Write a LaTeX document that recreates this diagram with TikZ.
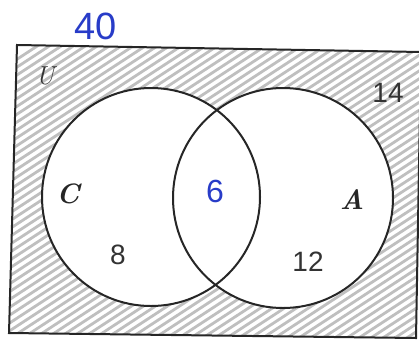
\documentclass[tikz,border=0pt]{standalone}
\usepackage{fontspec}
\setsansfont{Liberation Sans}
\definecolor{pen}{RGB}{40,60,200}
\begin{document}
\begin{tikzpicture}[x=1pt,y=-1pt,
  frame/.style={line width=2pt,black!85},
  setc/.style={circle,draw=black!85,line width=2pt,inner sep=0pt},
  hatch/.style={line width=2.8pt,gray!50,line cap=round},
  num/.style={font=\sffamily\fontsize{28}{28}\selectfont,text=black!80},
  setlbl/.style={font=\bfseries\itshape\fontsize{28}{28}\selectfont,text=black!85},
  hand/.style={font=\sffamily\fontsize{38}{38}\selectfont,text=pen}]
\useasboundingbox (0,0) rectangle (419,343);
\coordinate (p1) at (17,45);
\coordinate (p2) at (421,52);
\coordinate (p3) at (416,338);
\coordinate (p4) at (9,333);
\begin{scope}
  \clip (p1) -- (p2) -- (p3) -- (p4) -- cycle;
  \foreach \i in {-420,-408,...,440}
    \draw[hatch] (\i,345) -- ++(520,-340);
\end{scope}
\fill[white] (151,197) circle (109);
\fill[white] (283,198) circle (110);
\node[setc,minimum size=218pt] (cc) at (151,197) {};
\node[setc,minimum size=220pt] (ca) at (283,198) {};
\draw[frame] (p1) -- (p2) -- (p3) -- (p4) -- cycle;
\node[hand] (total) at (96,26) {40};
\node[font=\itshape\fontsize{26}{26}\selectfont,text=black!80] (u) at (45,76) {U};
\node[num] (n14) at (388,93) {14};
\node[setlbl] (lc) at (68,194) {C};
\node[setlbl] (la) at (352,200) {A};
\node[num] (n8) at (118,255) {8};
\node[num] (n12) at (308,262) {12};
\node[hand,font=\sffamily\fontsize{32}{32}\selectfont] (n6) at (215,191) {6};
\end{tikzpicture}
\end{document}
